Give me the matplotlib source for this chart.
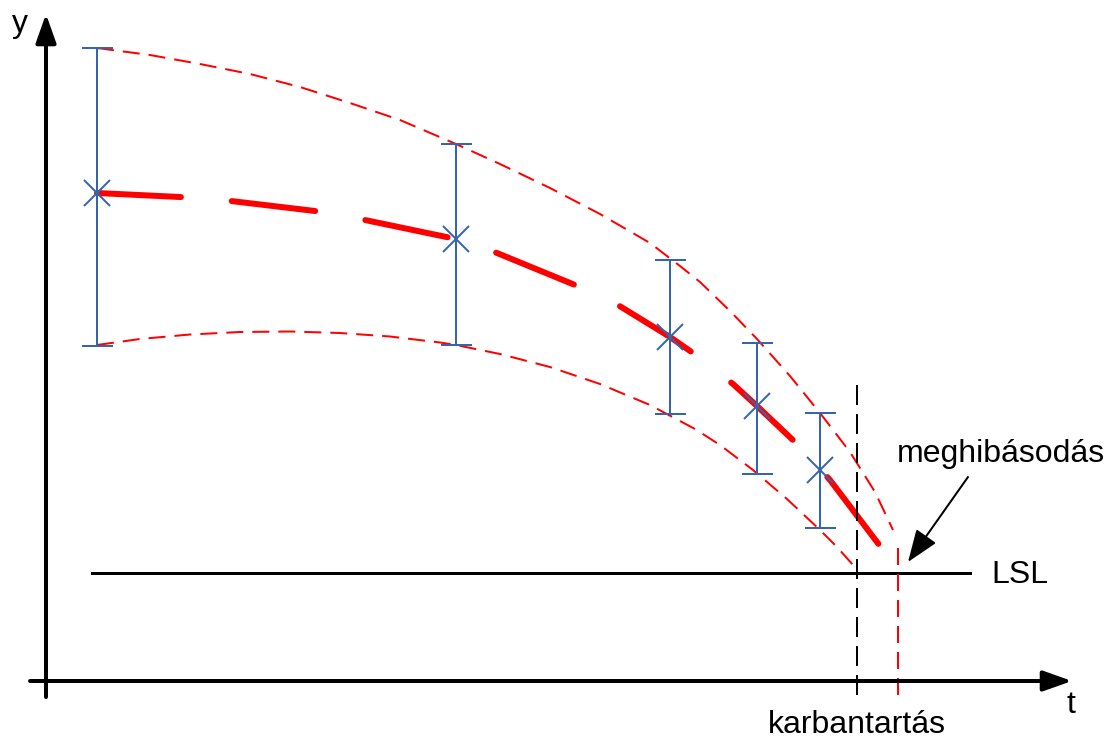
import matplotlib
matplotlib.use("Agg")
import matplotlib.pyplot as plt
import numpy as np

plt.rcParams['font.family'] = ['Liberation Sans', 'DejaVu Sans']
plt.rcParams['lines.scale_dashes'] = False

# ---- data (chart units: t to the right, y downward as read) ----
meas_t = [97, 456, 670, 757, 820]
meas_mean = [193, 239, 337, 406, 470]
meas_top = [48, 144, 260, 343, 413]
meas_bottom = [346, 345, 414, 474, 528]

mean_curve_t = [97, 180, 231, 315, 365, 456, 497, 575, 618, 670, 693, 733, 757, 795, 820, 830, 880]
mean_curve_y = [193, 197, 201, 211, 220, 239, 253, 285, 305, 337, 353, 384, 406, 442, 469, 480, 546]

upper_t = [97, 150, 200, 250, 300, 350, 400, 456, 500, 550, 600, 650, 680, 700, 730, 757, 790, 820, 850, 875, 893]
upper_y = [48, 55, 64, 74, 87, 103, 120, 144, 164, 188, 214, 243, 266, 282, 311, 339, 376, 413, 452, 492, 530]

lower_t = [97, 140, 190, 240, 290, 340, 390, 440, 456, 500, 550, 600, 650, 695, 720, 753, 787, 820, 837, 853]
lower_y = [345, 339, 334.5, 332, 331.5, 333, 336.5, 342.5, 345, 354, 367, 384, 405, 429, 445, 470, 499, 530, 547, 565]

lsl_y = 573
lsl_t = [92, 970]
maint_t = 857
maint_span = [385, 697]
fail_t = 898
fail_span = [548, 695]

axis_origin = (46, 681)
x_axis_span = [30, 1072]
y_axis_span = [697, 14]

BLUE = '#3465AE'
RED = '#FF0000'

fig = plt.figure(figsize=(11.14, 7.40), dpi=100)
ax = fig.add_axes([0, 0, 1, 1])
ax.set_xlim(0, 1114)
ax.set_ylim(740, 0)
ax.axis('off')

px = 0.72  # points per pixel

# axes arrows
arrow_style = '-|>,head_length=1.75,head_width=0.62'
ax.annotate('', xy=(x_axis_span[1], axis_origin[1]), xytext=(x_axis_span[0], axis_origin[1]),
            arrowprops=dict(arrowstyle=arrow_style, lw=4 * px, color='black',
                            mutation_scale=10, shrinkA=0, shrinkB=0))
ax.annotate('', xy=(axis_origin[0], y_axis_span[1]), xytext=(axis_origin[0], y_axis_span[0]),
            arrowprops=dict(arrowstyle=arrow_style, lw=4 * px, color='black',
                            mutation_scale=10, shrinkA=0, shrinkB=0))

# envelope curves
thin = dict(color=RED, lw=2 * px, linestyle=(0, (17 * px, 9 * px)), dash_capstyle='butt')
ax.plot(upper_t, upper_y, **thin)
ax.plot(lower_t, lower_y, **thin)

# mean trend
ax.plot(mean_curve_t, mean_curve_y, color=RED, lw=6 * px,
        linestyle=(0, (84 * px, 51 * px)), dash_capstyle='round', solid_joinstyle='round',
        dash_joinstyle='round')

# error bars
mean_arr = np.array(meas_mean)
yerr = [mean_arr - np.array(meas_top), np.array(meas_bottom) - mean_arr]
ax.errorbar(meas_t, meas_mean, yerr=yerr, fmt='x', color=BLUE, ecolor=BLUE,
            elinewidth=2 * px, capsize=15.5 * px, capthick=3 * px,
            markersize=27 * px, markeredgewidth=2 * px, zorder=3)

# LSL line
ax.plot(lsl_t, [lsl_y, lsl_y], color='black', lw=3 * px)

# maintenance and failure vertical lines
ax.plot([maint_t, maint_t], maint_span, color='black', lw=2 * px,
        linestyle=(0, (20 * px, 9 * px)))
ax.plot([fail_t, fail_t], fail_span, color=RED, lw=2 * px,
        linestyle=(0, (17 * px, 9 * px)))

# failure arrow
ax.annotate('', xy=(908, 562), xytext=(968, 477),
            arrowprops=dict(arrowstyle='-|>,head_length=2.0,head_width=0.75', lw=2 * px,
                            color='black', mutation_scale=10, shrinkA=0, shrinkB=0))

fs = 23
ax.text(20, 32, 'y', fontsize=fs, ha='center', va='baseline')
ax.text(1071, 713, 't', fontsize=fs, ha='center', va='baseline')
ax.text(857, 733, 'karbantartás', fontsize=fs, ha='center', va='baseline')
ax.text(1001, 462, 'meghibásodás', fontsize=fs, ha='center', va='baseline')
ax.text(991, 583, 'LSL', fontsize=fs, ha='left', va='baseline')

fig.savefig('out.png', dpi=100)
